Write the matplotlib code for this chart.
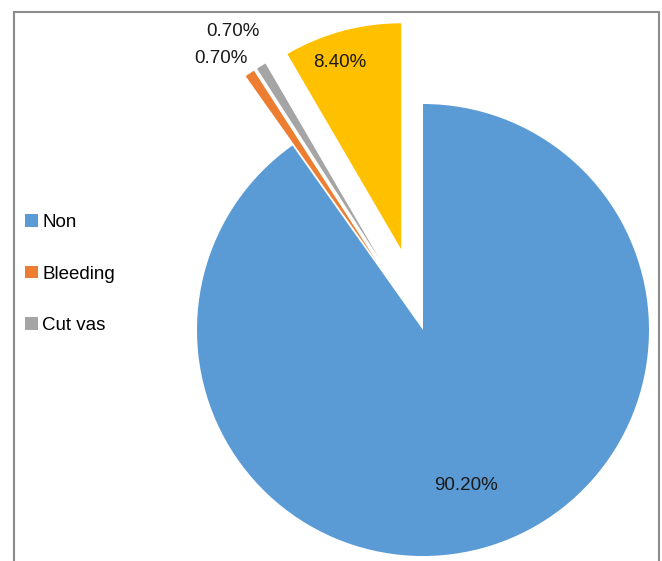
import numpy as np
import matplotlib
matplotlib.use("Agg")
import matplotlib.pyplot as plt
from matplotlib.patches import Rectangle

categories = ["Non", "Bleeding", "Cut vas", "Other"]
values = [90.2, 0.7, 0.7, 8.4]
explode_frac = [0, 0.37, 0.37, 0.37]
legend_shown = 3

COLORS = ["#5B9BD5", "#ED7D31", "#A5A5A5", "#FFC000"]
plt.rcParams["font.family"] = ["Liberation Sans", "DejaVu Sans"]
FS = 13.5

W, H = 662, 561
fig = plt.figure(figsize=(W / 100, H / 100), dpi=100)
ax = fig.add_axes([0, 0, 1, 1])

R = 226
# explode is in data units when radius != 1
wedges, _, autotexts = ax.pie(values, colors=COLORS, radius=R, center=(423, H - 330),
                              startangle=90, counterclock=False,
                              explode=[e * R for e in explode_frac],
                              autopct="%.2f%%", textprops={"fontsize": FS, "color": "#1a1a1a"},
                              wedgeprops={"linewidth": 0}, frame=True)
ax.set_xlim(0, W)
ax.set_ylim(0, H)
ax.set_aspect("equal")
ax.axis("off")

# label placement: distance (fraction of radius) from wedge tip, angle nudge (deg)
dist = [0.716, 1.127, 1.194, 0.868]
nudge = [-2.2, 3.6, 1.3, 3.1]
for w, t, d, a in zip(wedges, autotexts, dist, nudge):
    th = np.deg2rad((w.theta1 + w.theta2) / 2 + a)
    cx, cy = w.center
    t.set_position((cx + d * R * np.cos(th), cy + d * R * np.sin(th)))
    t.set_ha("center")
    t.set_va("center")

ax.legend(wedges[:legend_shown], categories[:legend_shown], loc="upper left",
          bbox_to_anchor=(0.027, 0.632), frameon=False, fontsize=FS,
          handlelength=0.65, handleheight=0.65, handletextpad=0.25,
          labelspacing=1.85, borderaxespad=0)

# outer chart border (bottom edge runs off the image)
fig.patches.append(Rectangle((14 / W, -0.05), (659 - 14) / W, 1.05 - 12 / H,
                             transform=fig.transFigure, fill=False,
                             edgecolor="#8c8c8c", lw=1.5))

fig.savefig("out.png", dpi=100)
